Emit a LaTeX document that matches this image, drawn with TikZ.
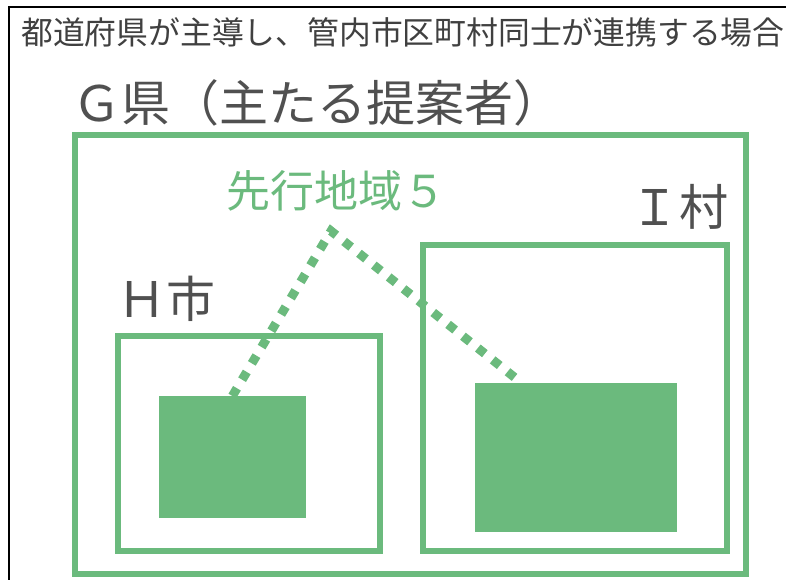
\documentclass[tikz,border=0pt]{standalone}
\usepackage{fontspec}
\setmainfont{Noto Sans CJK JP}
\usetikzlibrary{calc}
\definecolor{grn}{HTML}{6BBA7D}
\definecolor{txt}{HTML}{505050}
\definecolor{ttl}{HTML}{404040}
\tikzset{
  box/.style={draw=grn, line width=6pt, inner sep=0pt, outer sep=0pt},
  area/.style={fill=grn, inner sep=0pt, outer sep=0pt},
  lbl/.style={text=txt, inner sep=0pt, anchor=west, font=\fontsize{49}{49}\selectfont},
  link/.style={draw=grn, line width=9pt, dash pattern=on 9pt off 10pt}
}
\begin{document}
\begin{tikzpicture}[x=1pt, y=-1pt]
\useasboundingbox (0,0) rectangle (786,580);
\fill[white] (0,0) rectangle (786,580);
\draw[black, line width=2pt] (9,580) -- (9,7.5) -- (786,7.5);
\node[text=ttl, inner sep=0pt, anchor=west, font=\fontsize{31.8}{31.8}\selectfont] (title) at (21,32) {都道府県が主導し、管内市区町村同士が連携する場合};
\node[lbl] (glbl) at (72,103) {Ｇ県（主たる提案者）};
\node[box, minimum width=671pt, minimum height=439.3pt] (gken) at (410.5,354.4) {};
\node[text=grn, inner sep=0pt, anchor=west, font=\fontsize{44}{44}\selectfont] (senko) at (226,191) {先行地域５};
\node[lbl] (ilbl) at (630,207) {Ｉ村};
\node[box, minimum width=304.5pt, minimum height=306.3pt] (imura) at (574.75,397.85) {};
\node[lbl] (hlbl) at (117,299) {Ｈ市};
\node[box, minimum width=261.5pt, minimum height=215pt] (hshi) at (248.75,443.5) {};
\node[area, minimum width=146.7pt, minimum height=122pt] (larea) at (232.35,457) {};
\node[area, minimum width=202pt, minimum height=148.7pt] (rarea) at (576,457.65) {};
\coordinate (apex) at (331,231);
\draw[link] (larea.north) -- (apex) -- ($(rarea.north west)+(47,0)$);
\end{tikzpicture}
\end{document}
